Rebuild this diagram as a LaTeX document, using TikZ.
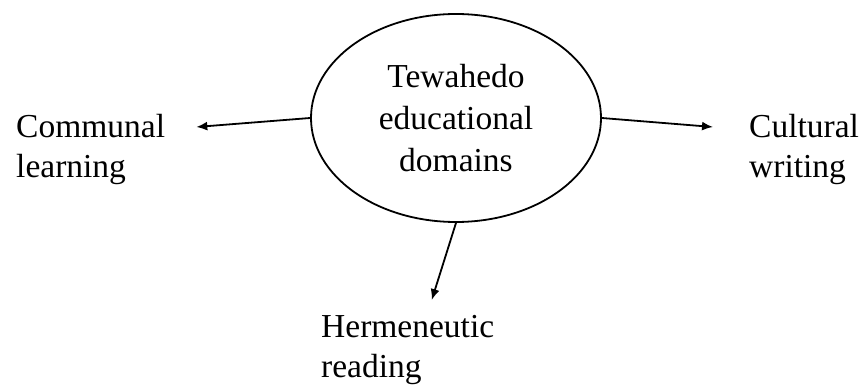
\documentclass[tikz,border=0pt]{standalone}
\usepackage{fontspec}
\setmainfont{Liberation Serif}
\usetikzlibrary{shapes.geometric,arrows.meta,positioning}

\begin{document}
\begin{tikzpicture}[x=1pt,y=1pt,
  every node/.style={inner sep=0pt, font=\fontsize{33.5}{40}\selectfont},
  hubnode/.style={draw, ellipse, line width=1.8pt, minimum width=290pt,
    minimum height=208pt, align=center, font=\fontsize{33.5}{42}\selectfont},
  lbl/.style={align=left, anchor=west},
  arr/.style={-{Latex[length=11pt,width=9pt]}, line width=1.8pt}]
\useasboundingbox (0,0) rectangle (864,-387);
% centre
\node[hubnode] (ted) at (456,-118) {Tewahedo\\educational\\domains};
% the three domains
\node[lbl] (comm) at (16,-149) {Communal\\learning};
\node[lbl] (cult) at (749,-149) {Cultural\\writing};
\node[lbl] (herm) at (321,-350) {Hermeneutic\\reading};
\draw[arr] (ted.west) -- ([shift={(31,22)}]comm.east);
\draw[arr] (ted.east) -- ([shift={(-36,22)}]cult.west);
\draw[arr] (ted.south) -- ([shift={(24,15)}]herm.north);
\end{tikzpicture}
\end{document}
